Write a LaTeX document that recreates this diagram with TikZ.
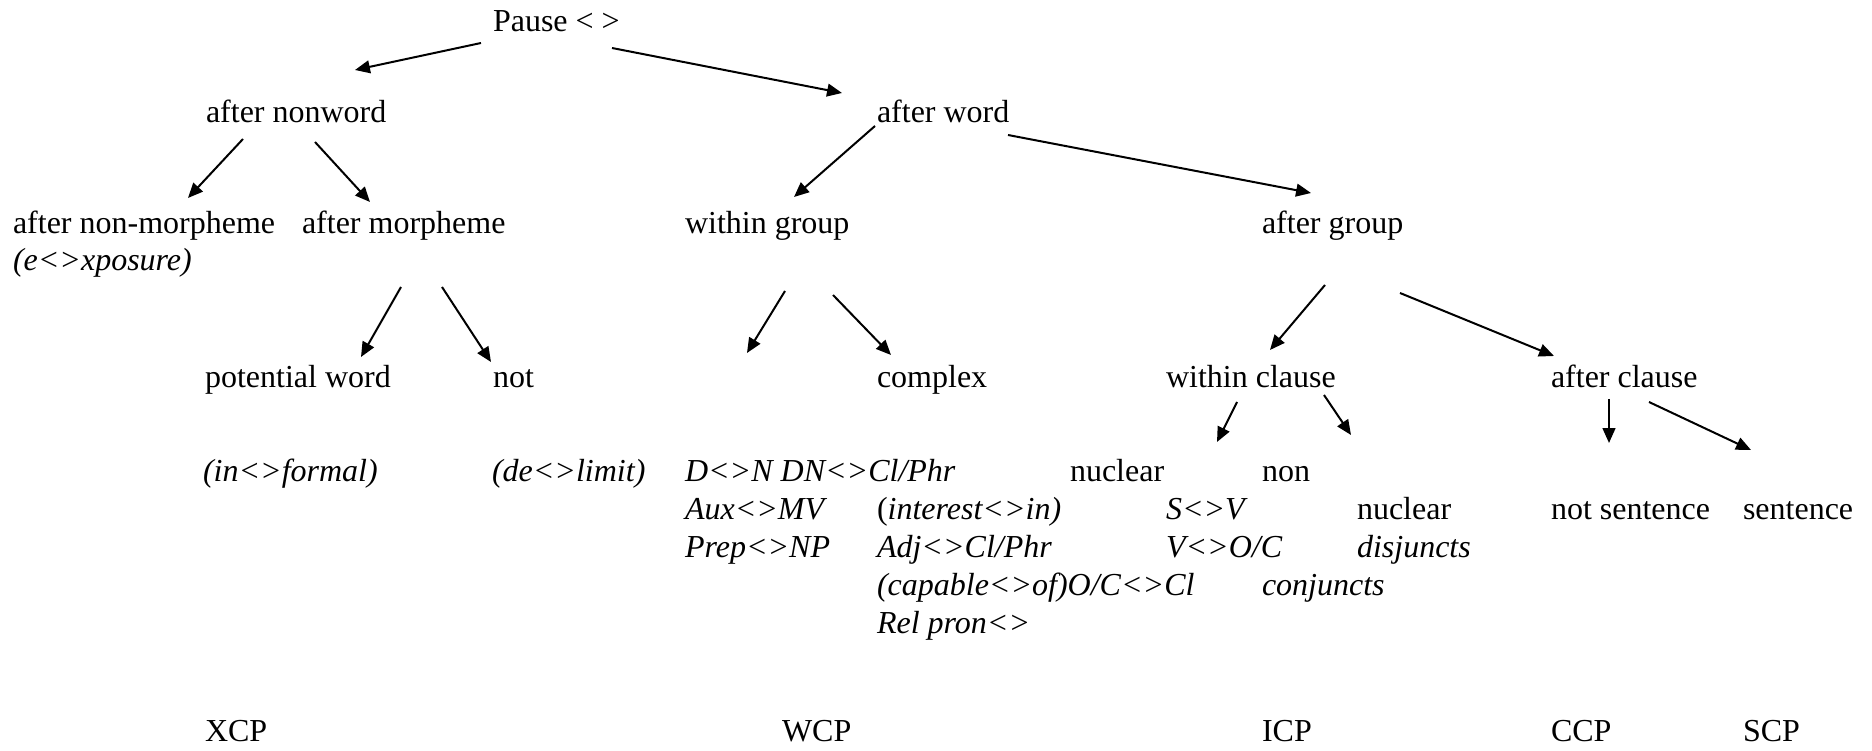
\documentclass[tikz,border=0pt]{standalone}
\usepackage{fontspec}
\setmainfont{Liberation Serif}
\usetikzlibrary{arrows.meta}
\begin{document}
\begin{tikzpicture}[x=0.375pt,y=-0.375pt,
  lbl/.style={anchor=base west,inner sep=0pt,outer sep=0pt,font=\fontsize{12}{14}\selectfont},
  ilbl/.style={lbl,font=\fontsize{12}{14}\selectfont\itshape},
  arr/.style={line width=0.75pt,-{Triangle[length=5.6pt,width=4.8pt]}}]
\useasboundingbox (0,0) rectangle (1872,751);
% level 1-2
\node[lbl] (pause) at (493,32) {Pause < >};
\node[lbl] (nonword) at (206,123) {after nonword};
\node[lbl] (word) at (877,123) {after word};
% level 3
\node[lbl] (nonmorph) at (13,234) {after non-morpheme};
\node[ilbl] (expos) at (13,271) {(e<>xposure)};
\node[lbl] (morph) at (302,234) {after morpheme};
\node[lbl] (wgroup) at (685,234) {within group};
\node[lbl] (agroup) at (1262,234) {after group};
% level 4
\node[lbl] (potential) at (205,388) {potential word};
\node[lbl] (notw) at (493,388) {not};
\node[lbl] (complex) at (877,388) {complex};
\node[lbl] (wclause) at (1166,388) {within clause};
\node[lbl] (aclause) at (1551,388) {after clause};
% row A
\node[ilbl] (informal) at (203,482) {(in<>formal)};
\node[ilbl] (delimit) at (492,482) {(de<>limit)};
\node[ilbl] (dn) at (685,482) {D<>N DN<>Cl/Phr};
\node[lbl] (nuclear) at (1070,482) {nuclear};
\node[lbl] (non) at (1262,482) {non};
% row B
\node[ilbl] (aux) at (685,520) {Aux<>MV};
\node[lbl] (interest) at (877,520) {(\textit{interest<>in)}};
\node[ilbl] (sv) at (1166,520) {S<>V};
\node[lbl] (nuclearb) at (1357,520) {nuclear};
\node[lbl] (notsent) at (1551,520) {not sentence};
\node[lbl] (sent) at (1743,520) {sentence};
% row C
\node[ilbl] (prep) at (685,558) {Prep<>NP};
\node[ilbl] (adj) at (877,558) {Adj<>Cl/Phr};
\node[ilbl] (vo) at (1166,558) {V<>O/C};
\node[ilbl] (disj) at (1357,558) {disjuncts};
% row D
\node[ilbl] (capable) at (877,596) {(capable<>of)O/C<>Cl};
\node[ilbl] (conj) at (1262,596) {conjuncts};
% row E
\node[ilbl] (rel) at (877,634) {Rel pron<>};
% bottom
\node[lbl] (xcp) at (205,742) {XCP};
\node[lbl] (wcp) at (782,742) {WCP};
\node[lbl] (icp) at (1262,742) {ICP};
\node[lbl] (ccp) at (1551,742) {CCP};
\node[lbl] (scp) at (1743,742) {SCP};
% arrow end points
\coordinate (s1) at (481,43);   \coordinate (t1) at (355,70);
\coordinate (s2) at (612,48);   \coordinate (t2) at (842,93);
\coordinate (s3) at (243,139);  \coordinate (t3) at (188,198);
\coordinate (s4) at (315,142);  \coordinate (t4) at (370,202);
\coordinate (s5) at (875,126);  \coordinate (t5) at (794,197);
\coordinate (s6) at (1008,135); \coordinate (t6) at (1311,193);
\coordinate (s7) at (401,287);  \coordinate (t7) at (361,357);
\coordinate (s8) at (442,287);  \coordinate (t8) at (491,362);
\coordinate (s9) at (785,291);  \coordinate (t9) at (747,353);
\coordinate (s10) at (833,295); \coordinate (t10) at (891,355);
\coordinate (s11) at (1325,285);\coordinate (t11) at (1270,350);
\coordinate (s12) at (1400,293);\coordinate (t12) at (1554,356);
\coordinate (s13) at (1237,402);\coordinate (t13) at (1217,442);
\coordinate (s14) at (1324,395);\coordinate (t14) at (1351,435);
\coordinate (s15) at (1609,399);\coordinate (t15) at (1609,443);
\coordinate (s16) at (1649,402);\coordinate (t16) at (1751,450);
\foreach \i in {1,...,16} {\draw[arr] (s\i) -- (t\i);}
\end{tikzpicture}
\end{document}
